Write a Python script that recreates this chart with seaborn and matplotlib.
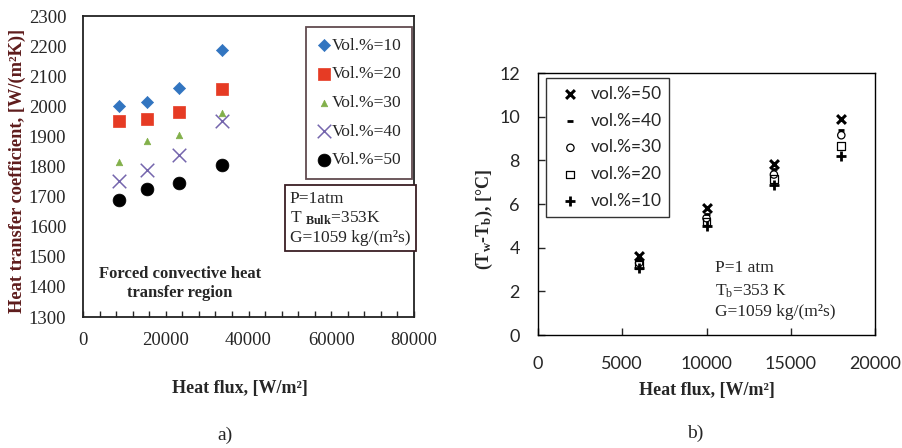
import numpy as np
import pandas as pd
import matplotlib
matplotlib.use("Agg")
import matplotlib.pyplot as plt
from matplotlib.ticker import MultipleLocator
import seaborn as sns

# ---------------- data: panel a ----------------
flux_a = [8600, 15400, 23100, 33700]
htc_vol10 = [2000, 2015, 2062, 2187]
htc_vol20 = [1950, 1958, 1983, 2057]
htc_vol30 = [1814, 1886, 1904, 1978]
htc_vol40 = [1752, 1787, 1838, 1952]
htc_vol50 = [1689, 1726, 1747, 1805]
labels_a = ["Vol.%=10", "Vol.%=20", "Vol.%=30", "Vol.%=40", "Vol.%=50"]

# ---------------- data: panel b ----------------
flux_b = [6000, 10000, 14000, 18000]
dT_vol50 = [3.60, 5.80, 7.85, 9.90]
dT_vol40 = [3.45, 5.55, 7.60, 9.40]
dT_vol30 = [3.30, 5.35, 7.35, 9.15]
dT_vol20 = [3.20, 5.20, 7.15, 8.65]
dT_vol10 = [3.05, 5.00, 6.85, 8.20]
labels_b = ["vol.%=50", "vol.%=40", "vol.%=30", "vol.%=20", "vol.%=10"]

sns.set_style("white")
plt.rcParams["mathtext.fontset"] = "custom"
plt.rcParams["mathtext.rm"] = "Liberation Serif"
plt.rcParams["mathtext.bf"] = "Liberation Serif:bold"
plt.rcParams["mathtext.it"] = "Liberation Serif:italic"
SERIF = ["Liberation Serif", "DejaVu Serif"]
SANS = ["Lato", "DejaVu Sans"]

fig = plt.figure(figsize=(9.03, 4.48), dpi=100)
axA = fig.add_axes([0.0919, 0.2924, 0.4585 - 0.0919, 0.964 - 0.2924])
axB = fig.add_axes([0.5958, 0.2522, 0.969 - 0.5958, 0.837 - 0.2522])

# ---------------- panel a ----------------
dfA = pd.DataFrame({"flux": flux_a * 5,
                    "htc": htc_vol10 + htc_vol20 + htc_vol30 + htc_vol40 + htc_vol50,
                    "series": sum([[l] * 4 for l in labels_a], [])})
styleA = {
    "Vol.%=10": dict(marker="D", s=38, color="#3275c0", edgecolor="#3275c0", linewidth=0.5),
    "Vol.%=20": dict(marker="s", s=80, color="#e63b24", edgecolor="#e63b24", linewidth=0.5),
    "Vol.%=30": dict(marker="^", s=22, color="#82b04a", edgecolor="#82b04a", linewidth=0.5),
    "Vol.%=40": dict(marker="x", s=95, color="#7566ad", linewidth=1.1),
    "Vol.%=50": dict(marker="o", s=85, color="black", edgecolor="black", linewidth=0.5),
}
for lab in labels_a:
    sub = dfA[dfA["series"] == lab]
    sns.scatterplot(data=sub, x="flux", y="htc", ax=axA, label=lab, **styleA[lab])

axA.set_xlim(0, 80000)
axA.set_ylim(1300, 2300)
axA.xaxis.set_major_locator(MultipleLocator(20000))
axA.xaxis.set_minor_locator(MultipleLocator(4000))
axA.yaxis.set_major_locator(MultipleLocator(100))
axA.tick_params(axis="x", which="both", direction="in", length=4, width=1, pad=11,
                bottom=True, top=False, labelsize=13.5)
axA.tick_params(axis="y", which="major", direction="in", length=0, pad=12, left=True,
                labelsize=13.5)
for t in axA.get_xticklabels() + axA.get_yticklabels():
    t.set_family(SERIF)
for sp in axA.spines.values():
    sp.set_visible(True)
    sp.set_color("#222222")
    sp.set_linewidth(1.3)

axA.set_xlabel("Heat flux, [W/m²]", family=SERIF, fontweight="bold", fontsize=13)
axA.xaxis.set_label_coords(0.474, -0.208)
axA.set_ylabel("Heat transfer coefficient, [W/(m²K)]", family=SERIF, fontweight="bold",
               fontsize=13.2, color="#5e1c1c")
axA.yaxis.set_label_coords(-0.172, 0.487)

legA = axA.legend(loc="upper right", bbox_to_anchor=(0.994, 0.963), frameon=True,
                  fancybox=False, prop={"family": SERIF, "size": 12.5},
                  labelspacing=0.72, handletextpad=0.0, handlelength=0.9,
                  borderpad=0.6, borderaxespad=0)
legA.get_frame().set_edgecolor("#3a1f24")
legA.get_frame().set_linewidth(1.3)

axA.text(0.625, 0.42,
         "P=1atm\nT $_{\\mathbf{Bulk}}$=353K\nG=1059 kg/(m²s)",
         transform=axA.transAxes, family=SERIF, fontsize=12.5, va="top", ha="left",
         linespacing=1.25,
         bbox=dict(boxstyle="square,pad=0.3", facecolor="white", edgecolor="#3a1f24",
                   linewidth=1.3))
axA.text(0.293, 0.113, "Forced convective heat\ntransfer region", transform=axA.transAxes,
         family=SERIF, fontweight="bold", fontsize=12, ha="center", va="center",
         linespacing=1.25)

# ---------------- panel b ----------------
dfB = pd.DataFrame({"flux": flux_b * 5,
                    "dT": dT_vol50 + dT_vol40 + dT_vol30 + dT_vol20 + dT_vol10,
                    "series": sum([[l] * 4 for l in labels_b], [])})
styleB = {
    "vol.%=50": dict(marker="x", s=40, color="black", linewidth=2.2),
    "vol.%=40": dict(marker="_", s=14, color="black", linewidth=2.0),
    "vol.%=30": dict(marker="o", s=28, color="black", facecolor="none", edgecolor="black",
                     linewidth=0.9),
    "vol.%=20": dict(marker="s", s=32, color="black", facecolor="none", edgecolor="black",
                     linewidth=0.9),
    "vol.%=10": dict(marker="+", s=45, color="black", linewidth=2.0),
}
for lab in labels_b:
    sub = dfB[dfB["series"] == lab]
    sns.scatterplot(data=sub, x="flux", y="dT", ax=axB, label=lab, **styleB[lab])

axB.set_xlim(0, 20000)
axB.set_ylim(0, 12)
axB.xaxis.set_major_locator(MultipleLocator(5000))
axB.yaxis.set_major_locator(MultipleLocator(2))
axB.tick_params(axis="both", which="major", direction="in", length=5, width=1,
                bottom=True, left=True, labelsize=13)
axB.tick_params(axis="x", pad=15)
axB.tick_params(axis="y", pad=13)
for t in axB.get_xticklabels() + axB.get_yticklabels():
    t.set_family(SANS)
for sp in axB.spines.values():
    sp.set_visible(True)
    sp.set_color("black")
    sp.set_linewidth(1.0)

axB.set_xlabel("Heat flux, [W/m²]", family=SERIF, fontweight="bold", fontsize=13)
axB.xaxis.set_label_coords(0.5, -0.18)
axB.set_ylabel("(T$_{\\mathbf{w}}$-T$_{\\mathbf{b}}$), [°C]", family=SERIF,
               fontweight="bold", fontsize=13)
axB.yaxis.set_label_coords(-0.128, 0.443)

legB = axB.legend(loc="upper left", bbox_to_anchor=(0.024, 0.981), frameon=True,
                  fancybox=False, prop={"family": SANS, "size": 12.5},
                  labelspacing=0.62, handletextpad=0.2, handlelength=1.9,
                  borderpad=0.45, borderaxespad=0)
legB.get_frame().set_edgecolor("black")
legB.get_frame().set_linewidth(1.0)

axB.text(0.525, 0.256, "P=1 atm", transform=axB.transAxes, family=SERIF, fontsize=12.5,
         va="center", ha="left")
axB.text(0.525, 0.168, "T$_{\\mathregular{b}}$=353 K", transform=axB.transAxes,
         family=SERIF, fontsize=12.5, va="center", ha="left")
axB.text(0.525, 0.088, "G=1059 kg/(m²s)", transform=axB.transAxes, family=SERIF,
         fontsize=12.5, va="center", ha="left")

fig.text(0.249, 0.029, "a)", family=SERIF, fontsize=14, ha="center", va="center")
fig.text(0.770, 0.033, "b)", family=SERIF, fontsize=14, ha="center", va="center")

fig.savefig("out.png", dpi=100)
